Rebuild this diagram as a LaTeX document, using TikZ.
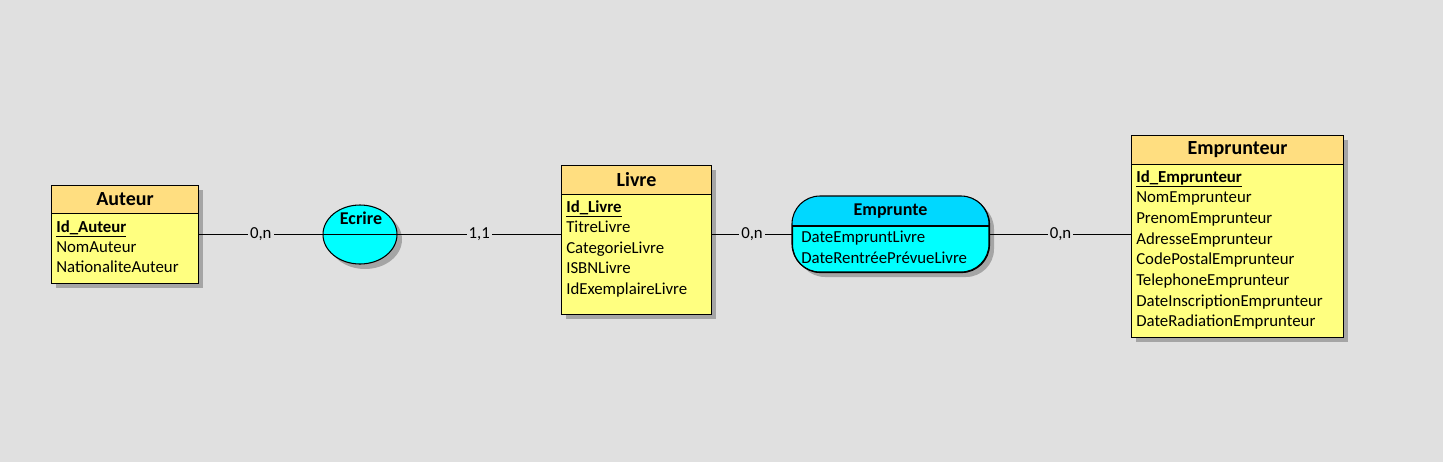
\documentclass[tikz,border=0pt]{standalone}
\usepackage{fontspec}
\setmainfont{Carlito}
\usetikzlibrary{shapes.geometric}
\definecolor{bgc}{RGB}{224,224,224}
\definecolor{hdrc}{RGB}{255,222,128}
\definecolor{bodyc}{RGB}{255,255,128}
\definecolor{cyhdr}{RGB}{0,216,255}
\definecolor{cybody}{RGB}{0,255,255}
\definecolor{shc}{RGB}{165,165,165}
\tikzset{
  entbox/.style={draw=black, fill=bodyc, anchor=north west, inner sep=0pt, line width=0.8pt},
  enthdr/.style={draw=black, fill=hdrc, anchor=north west, inner sep=0pt, line width=0.8pt},
  title/.style={font=\fontsize{15}{17}\selectfont\bfseries, inner sep=0pt},
  attr/.style={font=\fontsize{12.6}{14}\selectfont, anchor=base west, inner sep=0pt},
  reltitle/.style={font=\fontsize{13.5}{15}\selectfont\bfseries, inner sep=0pt},
  card/.style={font=\fontsize{12.6}{14}\selectfont, fill=bgc, inner sep=1.5pt},
  link/.style={draw=black, line width=0.6pt}
}
\begin{document}
\begin{tikzpicture}[x=0.75pt,y=-0.75pt]
\fill[bgc] (0,0) rectangle (1443,462);
\useasboundingbox (0,0) rectangle (1443,462);
% shadows
\fill[shc] (56,190) rectangle (203,288);
\fill[shc] (566,170) rectangle (716,319);
\fill[shc] (1136,140) rectangle (1348,342);
\fill[shc] (365,239.5) ellipse [x radius=37, y radius=29.5];
\fill[shc, rounded corners=21pt] (797,201) rectangle (994,277);

% Auteur
\node[entbox, minimum width=110.25pt, minimum height=73.5pt] (auteur) at (51,185) {};
\node[enthdr, minimum width=110.25pt, minimum height=21pt] (auteurh) at (51,185) {};
\node[title] (auteurt) at (auteurh.center) {Auteur};
\node[attr] (a1) at (56,232) {\underline{\textbf{Id\_Auteur}}};
\node[attr] (a2) at (56,252) {NomAuteur};
\node[attr] (a3) at (56,272) {NationaliteAuteur};

% Livre
\node[entbox, minimum width=112.5pt, minimum height=111.75pt] (livre) at (561,165) {};
\node[enthdr, minimum width=112.5pt, minimum height=21.75pt] (livreh) at (561,165) {};
\node[title] (livret) at (livreh.center) {Livre};
\node[attr] (l1) at (566,212) {\underline{\textbf{Id\_Livre}}};
\node[attr] (l2) at (566,232.5) {TitreLivre};
\node[attr] (l3) at (566,253.2) {CategorieLivre};
\node[attr] (l4) at (566,273.9) {ISBNLivre};
\node[attr] (l5) at (566,294.6) {IdExemplaireLivre};

% Emprunteur
\node[entbox, minimum width=159pt, minimum height=151.5pt] (empr) at (1131,135) {};
\node[enthdr, minimum width=159pt, minimum height=21.75pt] (emprh) at (1131,135) {};
\node[title] (emprt) at (emprh.center) {Emprunteur};
\node[attr] (e1) at (1136,182) {\underline{\textbf{Id\_Emprunteur}}};
\node[attr] (e2) at (1136,202.7) {NomEmprunteur};
\node[attr] (e3) at (1136,223.4) {PrenomEmprunteur};
\node[attr] (e4) at (1136,244.1) {AdresseEmprunteur};
\node[attr] (e5) at (1136,264.8) {CodePostalEmprunteur};
\node[attr] (e6) at (1136,285.5) {TelephoneEmprunteur};
\node[attr] (e7) at (1136,306.2) {DateInscriptionEmprunteur};
\node[attr] (e8) at (1136,326.9) {DateRadiationEmprunteur};

% Ecrire
\node[ellipse, draw=black, fill=cybody, line width=0.8pt, minimum width=55.5pt, minimum height=44.25pt, inner sep=0pt] (ecrire) at (360,234.5) {};
\node[reltitle] (ecriret) at (361,218.5) {Ecrire};

% Emprunte
\node[draw=black, fill=cybody, rounded corners=21pt, line width=0.8pt, minimum width=147.75pt, minimum height=57pt, inner sep=0pt, anchor=north west] (emprunte) at (792,196) {};
\begin{scope}
\clip[rounded corners=21pt] (792,196) rectangle (989,272);
\fill[cyhdr] (792,196) rectangle (989,226);
\end{scope}
\draw[line width=0.8pt, rounded corners=21pt] (792,196) rectangle (989,272);
\draw[line width=0.8pt] (792,226) -- (989,226);
\node[reltitle] (empruntet) at (890.5,211) {Emprunte};
\node[attr] (r1) at (801,242.8) {DateEmpruntLivre};
\node[attr] (r2) at (801,263.2) {DateRentréePrévueLivre};

% connectors
\draw[link] (ecrire.west) -- (ecrire.east);
\draw[link] (auteur.east |- ecrire.center) -- node[card] {0,n} (ecrire.west);
\draw[link] (ecrire.east) -- node[card] {1,1} (livre.west |- ecrire.center);
\draw[link] (livre.east |- ecrire.center) -- node[card] {0,n} (emprunte.west |- ecrire.center);
\draw[link] (emprunte.east |- ecrire.center) -- node[card] {0,n} (empr.west |- ecrire.center);
\end{tikzpicture}
\end{document}
